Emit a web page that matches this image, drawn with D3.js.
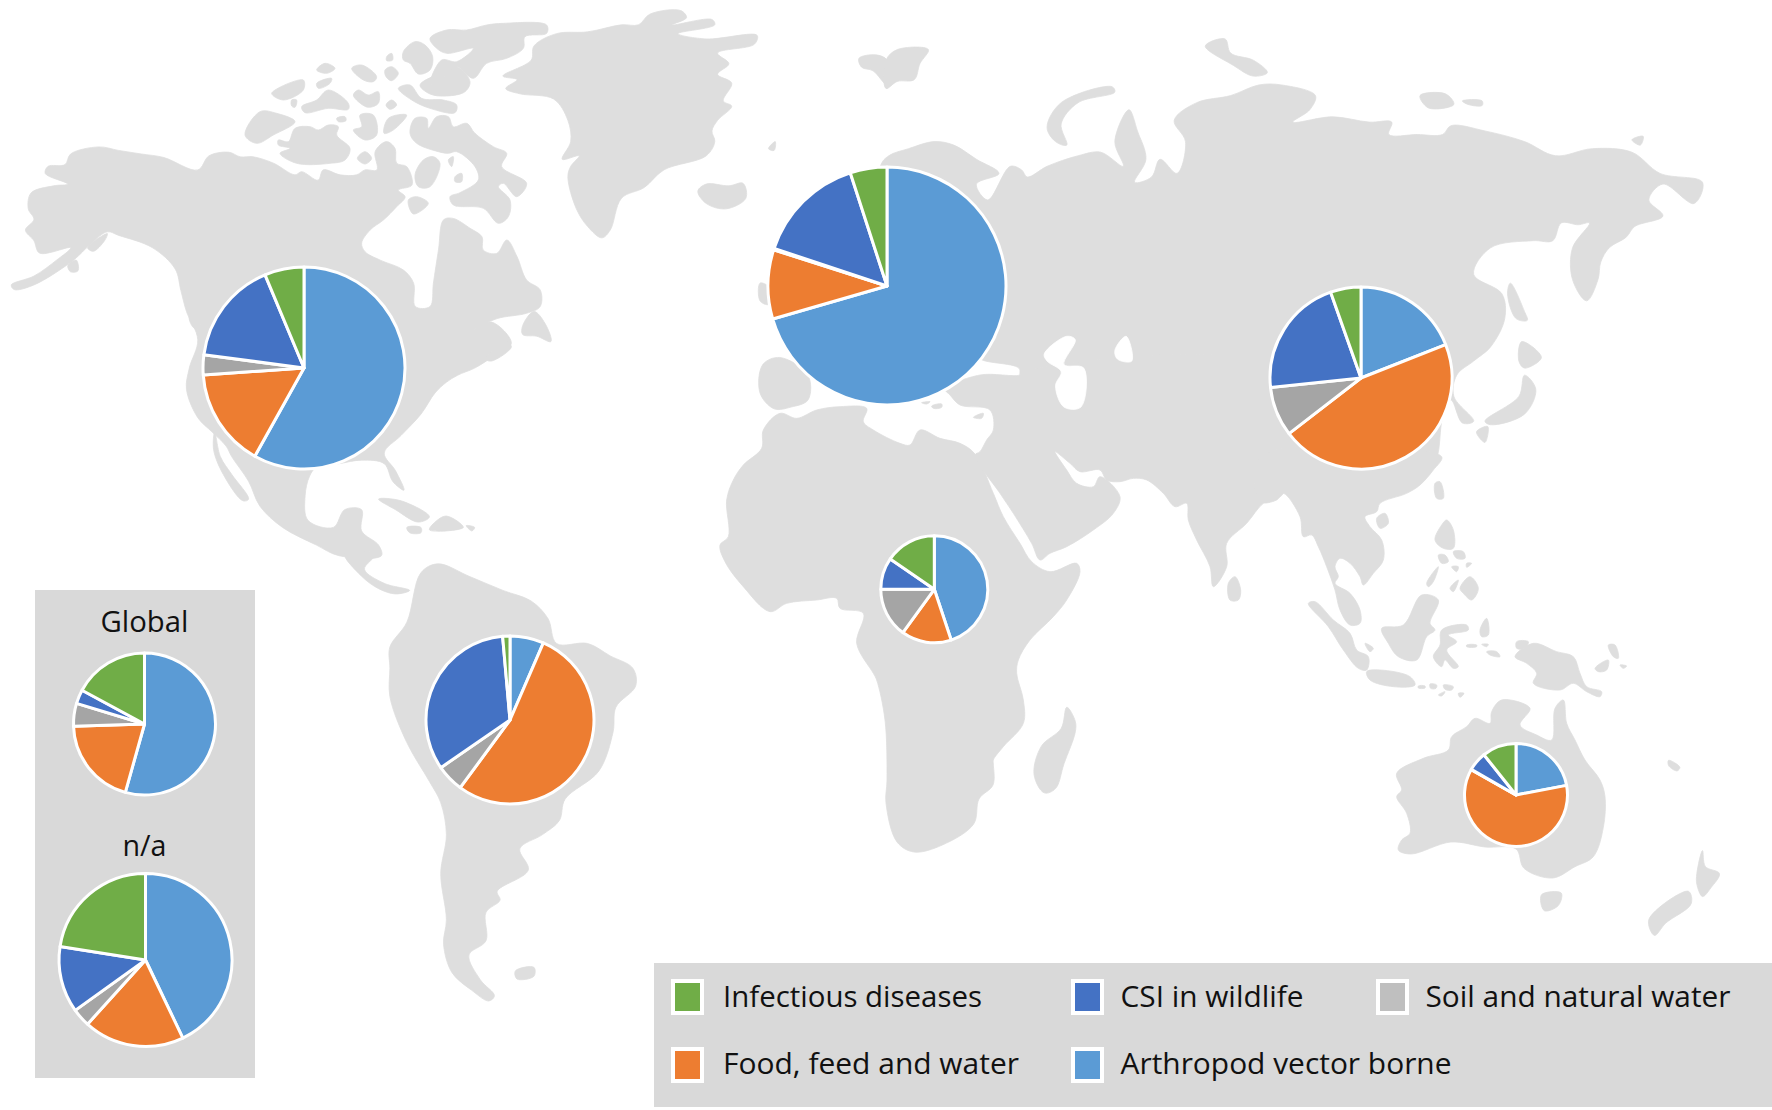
<!DOCTYPE html>
<html><head><meta charset="utf-8">
<script src="https://cdn.jsdelivr.net/npm/d3@7"></script>
<style>html,body{margin:0;padding:0;background:#fff}svg{display:block}text{font-family:"Open Sans",sans-serif;fill:#111}</style>
</head><body><div id="c"></div>
<script>
// ---- chart values (percent of region total) ----
const regions    = ["North America","Europe","Asia","Africa","South America","Oceania","Global","n/a"];
const arthropod  = [58.1,70.6,19.0,44.9, 6.5,22.0,54.3,42.9];
const food       = [15.8, 9.4,45.4,15.1,53.6,61.2,20.1,18.8];
const soil       = [ 3.2, 0.2, 8.8,15.0, 5.3, 0.1, 5.2, 3.4];
const csi        = [16.6,14.9,21.2, 9.6,33.2, 6.0, 3.2,12.4];
const infectious = [ 6.3, 5.0, 5.4,15.4, 1.4,10.7,17.1,22.5];
const seriesOrder  = ["Arthropod vector borne","Food, feed and water","Soil and natural water","CSI in wildlife","Infectious diseases"];
const seriesColors = ["#5B9BD5","#ED7D31","#A5A5A5","#4472C4","#70AD47"];
const legendRow1 = ["Infectious diseases","CSI in wildlife","Soil and natural water"];
const legendRow2 = ["Food, feed and water","Arthropod vector borne"];
const legendSwatch = {"Infectious diseases":"#70AD47","CSI in wildlife":"#4472C4","Soil and natural water":"#BFBFBF","Food, feed and water":"#ED7D31","Arthropod vector borne":"#5B9BD5"};
const legendWidth = {"Infectious diseases":259,"CSI in wildlife":183,"Soil and natural water":305,"Food, feed and water":296,"Arthropod vector borne":331};
const pieCx = [304,887,1361,934.3,510,1516,144.5,145.5];
const pieCy = [368,286,378,589.3,720,795,724,960];
const pieR  = [101,119,91,53.5,84,51.5,71,86.5];

const landNW = [
 [[20,805],[60,780],[100,735],[125,700],[70,715],[60,680],[45,650],[60,620],[50,590],[55,545],[95,525],[120,520],[80,490],[85,470],[115,465],[125,435],[175,415],[210,425],[250,435],[290,445],[350,480],[370,440],[405,430],[425,443],[448,443],[484,461],[522,494],[534,485],[563,509],[572,480],[602,494],[631,494],[646,480],[667,480],[664,428],[684,400],[699,419],[702,461],[720,471],[729,523],[705,537],[717,556],[702,584],[679,621],[655,650],[640,687],[646,711],[673,735],[714,763],[732,800],[735,866],[761,866],[767,800],[776,706],[785,621],[802,617],[832,645],[853,669],[855,706],[879,716],[897,678],[915,725],[932,791],[956,819],[956,866],[932,885],[880,900],[840,930],[870,910],[905,970],[870,1010],[840,1040],[810,1060],[790,1080],[770,1110],[745,1170],[710,1230],[680,1280],[700,1330],[715,1385],[695,1360],[680,1310],[640,1300],[600,1310],[560,1320],[548,1345],[540,1400],[545,1470],[590,1490],[610,1440],[640,1440],[640,1500],[670,1540],[675,1570],[600,1570],[560,1540],[500,1490],[460,1430],[440,1360],[410,1290],[400,1260],[375,1220],[350,1180],[330,1100],[335,1040],[350,960],[330,880],[320,820],[310,760],[270,700],[210,665],[190,655],[160,690],[130,735],[60,805],[25,818]],
 [[380,1220],[390,1290],[410,1340],[440,1410],[430,1415],[395,1340],[378,1270]],
 [[925,920],[945,880],[965,915],[975,965],[950,950],[925,945]],
 [[860,1015],[895,965],[905,980],[870,1020]],
 [[335,895],[350,900],[355,930],[342,925]],
 [[120,750],[135,735],[138,765],[125,768]],
 [[155,700],[190,660],[185,680],[165,710]],
 [[670,1410],[710,1415],[760,1460],[740,1475],[700,1440]],
 [[770,1475],[790,1458],[820,1490],[760,1497]],
 [[720,1490],[745,1490],[745,1505],[725,1505]],
 [[825,1485],[840,1490],[835,1500]],
 [[890,215],[940,170],[945,130],[985,95],[1040,90],[1100,70],[1130,70],[1150,40],[1205,30],[1215,50],[1190,70],[1260,55],[1265,70],[1200,95],[1250,110],[1340,100],[1335,125],[1270,150],[1290,180],[1270,210],[1295,235],[1280,285],[1295,300],[1270,340],[1260,370],[1265,400],[1250,440],[1175,480],[1140,530],[1100,560],[1080,650],[1065,672],[1040,640],[1020,590],[1005,500],[1010,470],[1025,440],[995,450],[1010,400],[1005,340],[980,280],[920,265],[895,250],[915,225]],
 [[1235,540],[1250,520],[1290,525],[1315,518],[1320,560],[1285,590],[1250,575]],
 [[1345,800],[1360,810],[1360,860],[1345,850]],
 [[1360,420],[1372,400],[1370,425]],
 [[1350,1030],[1380,1010],[1430,1060],[1430,1130],[1400,1150],[1370,1155],[1345,1110]],
 [[1520,165],[1550,155],[1570,170],[1570,240],[1545,200],[1525,190]]
];
const landArctic = [
 [[15,345],[60,275],[110,280],[165,305],[100,345],[50,370]],
 [[115,360],[145,365],[165,325],[210,320],[235,330],[265,315],[295,320],[290,345],[330,385],[315,420],[270,430],[170,430],[120,400],[150,385],[115,375]],
 [[95,220],[190,180],[190,210],[130,240]],
 [[230,190],[275,175],[270,190],[235,205]],
 [[230,150],[255,130],[285,145],[260,160]],
 [[185,260],[230,240],[265,210],[325,250],[325,268],[265,265],[195,278]],
 [[155,240],[170,240],[165,262],[155,258]],
 [[335,145],[365,135],[410,170],[400,185],[370,180]],
 [[340,225],[355,210],[385,225],[415,215],[415,250],[385,262],[355,245]],
 [[440,110],[455,100],[458,120],[440,122]],
 [[435,150],[455,140],[475,160],[455,182],[438,170]],
 [[438,255],[455,240],[470,255],[450,268]],
 [[290,295],[315,290],[318,302],[295,305]],
 [[490,95],[525,65],[555,75],[578,110],[570,150],[535,162],[510,130],[490,120]],
 [[475,205],[510,195],[545,235],[610,240],[650,255],[645,278],[570,265],[515,240]],
 [[540,195],[600,160],[650,140],[690,185],[675,215],[620,228],[570,222]],
 [[570,55],[620,30],[680,30],[740,15],[790,10],[920,15],[920,40],[855,50],[850,85],[800,115],[740,130],[700,175],[650,140],[620,165],[570,195],[605,120],[650,125],[700,85],[620,100],[590,85]],
 [[360,285],[400,285],[410,345],[375,360],[340,330],[365,320]],
 [[432,340],[445,295],[500,285],[460,330]],
 [[352,415],[375,395],[395,415],[375,432]],
 [[510,340],[525,295],[560,295],[565,325],[590,290],[625,290],[640,320],[680,310],[705,340],[760,380],[800,400],[785,440],[860,490],[830,530],[790,490],[775,500],[810,540],[805,590],[775,610],[730,565],[640,555],[630,530],[660,518],[715,480],[705,440],[650,395],[625,400],[595,395],[530,370]],
 [[525,465],[550,420],[580,410],[600,430],[570,500],[535,500]],
 [[505,540],[530,530],[565,550],[520,582]],
 [[625,420],[640,410],[635,440]],
 [[645,470],[665,460],[665,485],[645,485]]
];
const landNE = [
 [[-10,1000],[-10,470],[5,440],[40,420],[85,400],[120,410],[160,450],[200,490],[160,520],[180,565],[220,470],[240,480],[250,500],[285,470],[340,440],[380,430],[420,470],[405,400],[430,310],[445,370],[460,450],[440,515],[470,500],[485,450],[515,490],[530,400],[510,340],[550,290],[610,270],[660,240],[700,240],[760,270],[750,310],[720,345],[790,330],[855,345],[895,345],[890,380],[940,380],[985,380],[1000,355],[1060,370],[1130,400],[1185,440],[1250,420],[1320,430],[1370,490],[1445,515],[1430,575],[1375,520],[1350,565],[1375,610],[1325,640],[1310,670],[1280,700],[1265,740],[1260,790],[1240,850],[1215,790],[1215,700],[1245,630],[1225,635],[1195,630],[1180,680],[1145,680],[1070,700],[1040,775],[1090,830],[1095,900],[1070,980],[1040,1020],[1010,1060],[1005,1120],[1040,1190],[1020,1195],[1000,1130],[985,1180],[975,1290],[965,1305],[680,1305],[680,1070],[240,1070],[235,1040],[165,1010],[195,950]],
 [[285,360],[310,290],[400,245],[405,260],[340,290],[310,350],[320,410],[300,400]],
 [[0,170],[20,140],[75,140],[60,180],[50,225],[20,230],[0,250]],
 [[565,130],[600,110],[610,150],[650,170],[675,205],[650,215],[615,185]],
 [[945,270],[990,265],[1005,295],[960,305]],
 [[1020,285],[1055,285],[1055,298],[1030,295]],
 [[1320,395],[1340,385],[1335,410]],
 [[1105,800],[1130,880],[1135,905],[1115,900],[1100,830]],
 [[1125,965],[1160,1010],[1130,1040],[1120,1020]],
 [[1130,1060],[1150,1100],[1130,1170],[1070,1200],[1060,1190],[1120,1120]],
 [[1045,1220],[1065,1205],[1060,1250]]
];
const lakesNE = [
 [[280,1000],[320,950],[335,960],[315,1030],[350,1040],[345,1150],[315,1150],[300,1090],[310,1050],[285,1020]],
 [[405,990],[425,950],[435,1020],[410,1015]]
];
const landSW = [
 [[610,-3],[665,-3],[645,40],[680,80],[725,100],[700,110],[670,95],[640,60]],
 [[690,260],[720,190],[745,50],[775,25],[830,60],[890,100],[940,130],[970,180],[985,250],[1040,250],[1080,285],[1120,320],[1125,370],[1090,430],[1085,500],[1060,610],[1000,690],[990,750],[960,790],[920,830],[935,890],[880,950],[885,975],[860,1010],[860,1090],[830,1130],[850,1200],[875,1245],[865,1260],[835,1230],[800,1180],[785,1100],[790,1030],[780,900],[790,790],[780,700],[760,640],[720,530],[690,400],[690,320]],
 [[912,1175],[945,1165],[945,1190],[915,1198]]
];
const landAfrica = [
 [[240,100],[290,115],[350,90],[420,80],[500,85],[490,125],[520,150],[600,190],[630,195],[660,150],[720,175],[780,190],[825,222],[880,340],[910,410],[960,490],[995,545],[1050,575],[1130,550],[1140,575],[1100,660],[1060,710],[990,780],[955,840],[950,880],[970,960],[970,1030],[910,1100],[880,1140],[880,1152],[879,1215],[837,1257],[821,1332],[727,1395],[642,1416],[591,1386],[558,1269],[561,1200],[555,1020],[530,900],[520,880],[470,790],[490,700],[420,685],[410,655],[350,660],[260,670],[210,695],[130,620],[75,545],[60,495],[85,470],[80,360],[100,300],[130,255],[185,205],[190,150]],
 [[665,68],[690,65],[680,72]],
 [[695,78],[725,72],[725,82],[700,85]],
 [[820,112],[850,100],[845,115]]
];
const landMiddleEast = [
 [[195,27],[300,-15],[420,-15],[430,-25],[1210,-25],[1210,340],[1150,370],[1100,430],[1040,490],[1040,560],[1000,620],[990,560],[950,480],[925,420],[920,370],[885,380],[850,340],[800,300],[760,295],[720,305],[680,300],[660,270],[600,275],[570,250],[525,215],[560,270],[590,310],[640,320],[660,290],[720,350],[700,400],[640,450],[560,500],[510,520],[480,540],[455,490],[400,400],[360,340],[285,225],[300,215],[320,180],[340,150],[330,90],[240,75],[210,45]],
 [[1045,610],[1065,590],[1082,630],[1075,660],[1050,660]]
];
const landAsiaPacific = [
 [[-30,-10],[515,-10],[490,30],[450,75],[410,100],[330,130],[320,155],[285,170],[300,200],[335,240],[340,300],[310,340],[280,375],[270,350],[240,310],[210,295],[195,320],[205,350],[195,370],[240,400],[270,450],[270,490],[240,495],[210,450],[195,390],[170,320],[145,260],[125,225],[100,230],[90,170],[40,100],[20,120],[-30,125]],
 [[320,175],[345,160],[355,190],[330,205]],
 [[495,70],[510,65],[520,115],[500,115]],
 [[495,240],[515,195],[530,180],[550,210],[550,265],[520,265]],
 [[505,285],[525,285],[535,305],[515,310]],
 [[550,275],[580,275],[585,295],[560,295]],
 [[545,320],[565,320],[560,335]],
 [[590,310],[605,310],[590,322]],
 [[470,370],[505,320],[490,365],[475,380]],
 [[540,385],[565,360],[550,395]],
 [[570,385],[600,350],[625,385],[605,420],[580,400]],
 [[335,505],[400,495],[455,405],[505,420],[480,490],[495,510],[470,530],[440,600],[385,590],[355,550]],
 [[515,510],[590,495],[595,510],[535,525],[560,545],[530,570],[565,620],[550,625],[525,600],[515,620],[490,590],[510,555]],
 [[630,510],[650,475],[655,525],[635,530]],
 [[590,555],[620,555],[620,560],[590,560]],
 [[635,553],[655,553],[650,560]],
 [[650,575],[680,575],[690,590],[660,585]],
 [[735,590],[790,550],[860,575],[910,590],[930,640],[950,680],[995,695],[990,710],[950,695],[910,670],[870,690],[790,670],[800,640],[770,610]],
 [[740,545],[775,545],[765,565],[740,565]],
 [[1015,555],[1035,555],[1045,595],[1030,590]],
 [[975,625],[1015,600],[1010,630],[985,635]],
 [[1050,615],[1070,618],[1060,625]],
 [[115,430],[135,425],[190,480],[240,520],[260,570],[295,590],[290,630],[265,625],[220,570],[175,500]],
 [[285,550],[310,565],[300,575]],
 [[290,635],[330,630],[420,650],[435,675],[370,680],[300,660]],
 [[445,678],[465,678],[465,684],[445,684]],
 [[480,672],[500,675],[498,685],[482,685]],
 [[520,675],[550,680],[545,690],[525,688]],
 [[505,705],[525,695],[515,708]],
 [[565,700],[582,700],[570,712]],
 [[380,940],[460,895],[535,870],[545,830],[590,800],[615,775],[660,790],[665,755],[695,720],[780,745],[750,795],[800,825],[845,840],[855,745],[880,720],[890,790],[915,840],[945,900],[990,960],[1005,1010],[1000,1102],[970,1190],[915,1220],[848,1254],[762,1225],[738,1167],[645,1161],[543,1146],[423,1182],[385,1170],[395,1140],[420,1120],[410,1060],[380,1010],[395,990]]
];
const landSE = [
 [[320,430],[335,470],[335,500],[315,590],[300,660],[280,672],[262,620],[275,540],[310,490]],
 [[1160,960],[1195,955],[1190,990],[1165,1005]],
 [[1350,1030],[1420,950],[1425,985],[1380,1040],[1360,1075]],
 [[1435,900],[1445,835],[1450,880],[1475,900],[1460,940],[1445,965],[1435,930]],
 [[1385,580],[1405,600],[1400,610],[1385,595]]
];

const W=1772,H=1110;
const svg=d3.select("#c").append("svg").attr("width",W).attr("height",H);
svg.append("rect").attr("width",W).attr("height",H).attr("fill","#fff");

// ---- map ----
const qx0=d3.scaleLinear().domain([0,1568]).range([0,886]);
const qx1=d3.scaleLinear().domain([0,1568]).range([886,1772]);
const qy0=d3.scaleLinear().domain([0,1568]).range([0,555]);
const qy1=d3.scaleLinear().domain([0,1568]).range([555,1110]);
const crop=(o)=>d3.scaleLinear().domain([0,3]).range([o,o+1]);
const mapG=svg.append("g");
function drawLand(polys,sx,sy,fill){
  const line=d3.line().x(d=>sx(d[0])).y(d=>sy(d[1])).curve(d3.curveCatmullRomClosed.alpha(0.5));
  mapG.selectAll(null).data(polys).enter().append("path").attr("d",line)
    .attr("fill",fill).attr("stroke",fill).attr("stroke-width",0.8).attr("stroke-linejoin","round");
}
const landColor="#dedede";
drawLand(landNW,qx0,qy0,landColor);
drawLand(landArctic,crop(240),crop(20),landColor);
drawLand(landNE,qx1,qy0,landColor);
drawLand(landSW,qx0,qy1,landColor);
drawLand(landAfrica,crop(700),crop(380),landColor);
drawLand(landMiddleEast,crop(880),crop(380),landColor);
drawLand(landAsiaPacific,crop(1270),crop(460),landColor);
drawLand(landSE,qx1,qy1,landColor);
drawLand(lakesNE,qx1,qy0,"#fff");

// ---- panels ----
svg.append("rect").attr("x",35).attr("y",590).attr("width",220).attr("height",488).attr("fill","#d9d9d9");
svg.append("rect").attr("x",654).attr("y",963).attr("width",1118).attr("height",144).attr("fill","#d9d9d9");

// ---- pies ----
const pie=d3.pie().sort(null).value(d=>d.v);
const arc=d3.arc().innerRadius(0);
const color=d3.scaleOrdinal().domain(seriesOrder).range(seriesColors);
regions.forEach((r,i)=>{
  const vals=[arthropod[i],food[i],soil[i],csi[i],infectious[i]].map((v,j)=>({k:seriesOrder[j],v}));
  const g=svg.append("g").attr("class","pie").attr("transform",`translate(${pieCx[i]},${pieCy[i]})`);
  g.selectAll("path").data(pie(vals)).enter().append("path")
    .attr("d",d=>arc.outerRadius(pieR[i])(d))
    .attr("fill",d=>color(d.data.k))
    .attr("stroke","#fff").attr("stroke-width",3).attr("stroke-linejoin","round");
});

// ---- panel labels ----
svg.append("text").attr("x",144.5).attr("y",632).attr("text-anchor","middle").attr("font-size",29).attr("textLength",88).attr("lengthAdjust","spacingAndGlyphs").text("Global");
svg.append("text").attr("x",144.5).attr("y",856).attr("text-anchor","middle").attr("font-size",29).attr("textLength",44).attr("lengthAdjust","spacingAndGlyphs").text("n/a");

// ---- legend ----
const swatchX=[671,1071,1376], labelX=[723,1120.5,1425.5], rowY=[979,1047], baseY=[1007,1074];
[legendRow1,legendRow2].forEach((row,ri)=>{
  row.forEach((name,ci)=>{
    svg.append("rect").attr("x",swatchX[ci]+2).attr("y",rowY[ri]+2).attr("width",29).attr("height",32)
      .attr("fill",legendSwatch[name]).attr("stroke","#fff").attr("stroke-width",4);
    svg.append("text").attr("x",labelX[ci]).attr("y",baseY[ri]).attr("font-size",29)
      .attr("textLength",legendWidth[name]).attr("lengthAdjust","spacingAndGlyphs").text(name);
  });
});
</script></body></html>
